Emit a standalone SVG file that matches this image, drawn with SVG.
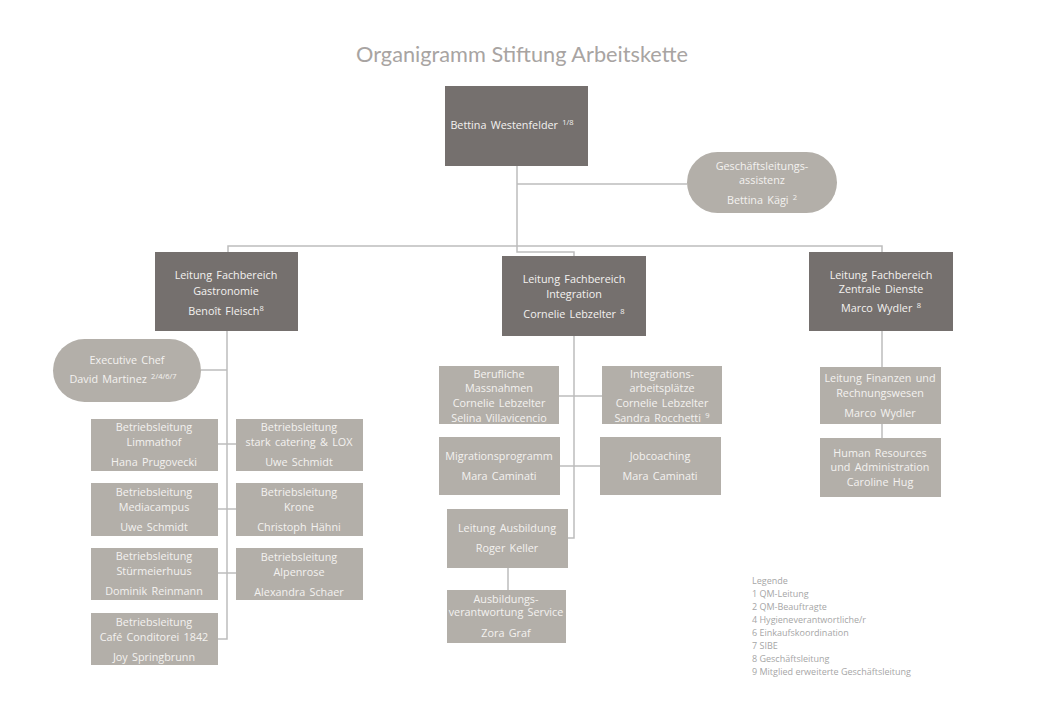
<svg xmlns="http://www.w3.org/2000/svg" width="1040" height="720" viewBox="0 0 1040 720">
<defs>
<style>
.bg{fill:#ffffff}
.dark{fill:#75706e}
.light{fill:#b3afa9}
.t{font-family:"Open Sans","Liberation Sans",sans-serif;font-size:10.8px;word-spacing:1.5px;text-anchor:middle;fill:#f4f2f0}
.title{font-family:Lato,"Open Sans",sans-serif;font-size:22px;text-anchor:middle;fill:#a8a4a2}
.leg{font-family:"Open Sans","Liberation Sans",sans-serif;font-size:9px;fill:#a6a6a6}
.sup{font-size:7.5px}
.c{fill:none;stroke:#bdbdbd;stroke-width:1.5}
</style>
</defs>
<rect class="bg" x="0" y="0" width="1040" height="720"/>
<text class="title" x="522" y="62" textLength="332" lengthAdjust="spacingAndGlyphs">Organigramm Stiftung Arbeitskette</text>

<g id="connectors">
<path class="c" d="M517 166 V246 M517 184 H687 M228 252 V246 H882 V252 M517 246 V252 H574 V256"/>
<path class="c" d="M227 331 V639 H218 M201 370 H227 M218 444 H236 M218 509 H236 M218 573 H236"/>
<path class="c" d="M574 336 V538 H568 M559 396 H602 M560 466 H600 M508 568 V590"/>
<path class="c" d="M882 331 V367 M882 424 V438"/>
</g>

<g id="ceo">
<rect class="dark" x="445" y="86" width="143" height="80"/>
<text class="t" x="512" y="129">Bettina Westenfelder <tspan class="sup" dy="-4">1/8</tspan></text>
</g>
<g id="assistenz">
<rect class="light" x="687" y="152" width="150" height="61" rx="30.5"/>
<text class="t" x="762" y="170">Geschäftsleitungs-</text>
<text class="t" x="762" y="184">assistenz</text>
<text class="t" x="762" y="204">Bettina Kägi <tspan class="sup" dy="-4">2</tspan></text>
</g>

<g id="gastronomie">
<rect class="dark" x="155" y="252" width="143" height="79"/>
<text class="t" x="226" y="279">Leitung Fachbereich</text>
<text class="t" x="226" y="295">Gastronomie</text>
<text class="t" x="226" y="315">Benoît Fleisch<tspan class="sup" dy="-4">8</tspan></text>
</g>
<g id="integration">
<rect class="dark" x="502" y="256" width="144" height="80"/>
<text class="t" x="574" y="283">Leitung Fachbereich</text>
<text class="t" x="574" y="298">Integration</text>
<text class="t" x="574" y="318">Cornelie Lebzelter <tspan class="sup" dy="-4">8</tspan></text>
</g>
<g id="zentrale">
<rect class="dark" x="809" y="252" width="144" height="79"/>
<text class="t" x="881" y="279">Leitung Fachbereich</text>
<text class="t" x="881" y="293">Zentrale Dienste</text>
<text class="t" x="881" y="312">Marco Wydler <tspan class="sup" dy="-4">8</tspan></text>
</g>

<g id="executive-chef">
<rect class="light" x="53" y="339" width="148" height="63" rx="31.5"/>
<text class="t" x="127" y="364">Executive Chef</text>
<text class="t" x="123" y="383">David Martinez <tspan class="sup" dy="-4">2/4/6/7</tspan></text>
</g>

<g id="limmathof">
<rect class="light" x="91" y="419" width="127" height="52"/>
<text class="t" x="154" y="431">Betriebsleitung</text>
<text class="t" x="154" y="446">Limmathof</text>
<text class="t" x="154" y="466">Hana Prugovecki</text>
</g>
<g id="stark-catering">
<rect class="light" x="236" y="419" width="127" height="52"/>
<text class="t" x="299" y="431">Betriebsleitung</text>
<text class="t" x="299" y="446">stark catering &amp; LOX</text>
<text class="t" x="299" y="466">Uwe Schmidt</text>
</g>
<g id="mediacampus">
<rect class="light" x="91" y="483" width="127" height="53"/>
<text class="t" x="154" y="496">Betriebsleitung</text>
<text class="t" x="154" y="511">Mediacampus</text>
<text class="t" x="154" y="531">Uwe Schmidt</text>
</g>
<g id="krone">
<rect class="light" x="236" y="483" width="127" height="53"/>
<text class="t" x="299" y="496">Betriebsleitung</text>
<text class="t" x="299" y="511">Krone</text>
<text class="t" x="299" y="531">Christoph Hähni</text>
</g>
<g id="stuermeierhuus">
<rect class="light" x="91" y="548" width="127" height="52"/>
<text class="t" x="154" y="560">Betriebsleitung</text>
<text class="t" x="154" y="575">Stürmeierhuus</text>
<text class="t" x="154" y="595">Dominik Reinmann</text>
</g>
<g id="alpenrose">
<rect class="light" x="236" y="548" width="127" height="52"/>
<text class="t" x="299" y="561">Betriebsleitung</text>
<text class="t" x="299" y="576">Alpenrose</text>
<text class="t" x="299" y="596">Alexandra Schaer</text>
</g>
<g id="cafe-conditorei">
<rect class="light" x="91" y="613" width="127" height="52"/>
<text class="t" x="154" y="626">Betriebsleitung</text>
<text class="t" x="154" y="641">Café Conditorei 1842</text>
<text class="t" x="154" y="661">Joy Springbrunn</text>
</g>

<g id="berufliche-massnahmen">
<rect class="light" x="439" y="366" width="120" height="58"/>
<text class="t" x="499" y="378">Berufliche</text>
<text class="t" x="499" y="392">Massnahmen</text>
<text class="t" x="499" y="407">Cornelie Lebzelter</text>
<text class="t" x="499" y="422">Selina Villavicencio</text>
</g>
<g id="integrationsarbeitsplaetze">
<rect class="light" x="602" y="366" width="120" height="58"/>
<text class="t" x="662" y="378">Integrations-</text>
<text class="t" x="662" y="392">arbeitsplätze</text>
<text class="t" x="662" y="407">Cornelie Lebzelter</text>
<text class="t" x="662" y="422">Sandra Rocchetti <tspan class="sup" dy="-4">9</tspan></text>
</g>
<g id="migrationsprogramm">
<rect class="light" x="439" y="437" width="121" height="58"/>
<text class="t" x="499" y="460">Migrationsprogramm</text>
<text class="t" x="499" y="480">Mara Caminati</text>
</g>
<g id="jobcoaching">
<rect class="light" x="600" y="437" width="121" height="58"/>
<text class="t" x="660" y="460">Jobcoaching</text>
<text class="t" x="660" y="480">Mara Caminati</text>
</g>
<g id="leitung-ausbildung">
<rect class="light" x="447" y="509" width="121" height="59"/>
<text class="t" x="507" y="532">Leitung Ausbildung</text>
<text class="t" x="507" y="552">Roger Keller</text>
</g>
<g id="ausbildungsverantwortung">
<rect class="light" x="447" y="590" width="119" height="53"/>
<text class="t" x="506" y="603">Ausbildungs-</text>
<text class="t" x="506" y="616">verantwortung Service</text>
<text class="t" x="506" y="637">Zora Graf</text>
</g>

<g id="finanzen">
<rect class="light" x="820" y="367" width="121" height="57"/>
<text class="t" x="880" y="382">Leitung Finanzen und</text>
<text class="t" x="880" y="397">Rechnungswesen</text>
<text class="t" x="880" y="417">Marco Wydler</text>
</g>
<g id="human-resources">
<rect class="light" x="820" y="438" width="121" height="59"/>
<text class="t" x="880" y="457">Human Resources</text>
<text class="t" x="880" y="471">und Administration</text>
<text class="t" x="880" y="486">Caroline Hug</text>
</g>

<g id="legende">
<text class="leg" x="752" y="584">Legende</text>
<text class="leg" x="752" y="597">1 QM-Leitung</text>
<text class="leg" x="752" y="610">2 QM-Beauftragte</text>
<text class="leg" x="752" y="623">4 Hygieneverantwortliche/r</text>
<text class="leg" x="752" y="636">6 Einkaufskoordination</text>
<text class="leg" x="752" y="649">7 SIBE</text>
<text class="leg" x="752" y="662">8 Geschäftsleitung</text>
<text class="leg" x="752" y="675">9  Mitglied erweiterte Geschäftsleitung</text>
</g>
</svg>
